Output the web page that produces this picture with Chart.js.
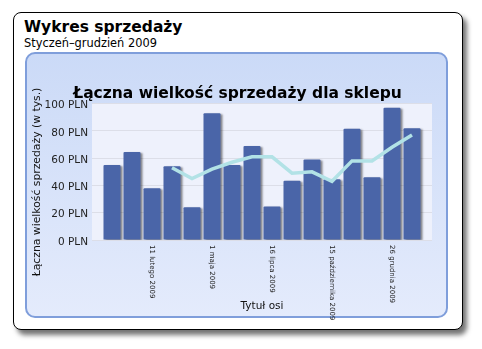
<!DOCTYPE html>
<html>
<head>
<meta charset="utf-8">
<script src="https://cdn.jsdelivr.net/npm/chart.js@4.4.0/dist/chart.umd.min.js"></script>
<style>
  body { margin: 0; background: #fff; font-family: "DejaVu Sans", Verdana, sans-serif; }
  #card {
    position: absolute; left: 13px; top: 12px; width: 448px; height: 316px;
    border: 1px solid #000; border-radius: 8px; background: #fff;
    box-shadow: 4px 5px 5px rgba(0,0,0,0.55);
  }
  #head1 { position: absolute; left: 24px; top: 18px; font-weight: bold; font-size: 15.5px; color: #000; }
  #head2 { position: absolute; left: 24px; top: 36px; font-size: 11.4px; color: #000; }
  #panel {
    position: absolute; left: 25px; top: 52px; width: 419px; height: 262px;
    border: 2px solid #7f9edb; border-radius: 10px;
    background: linear-gradient(to bottom, #cbdaf7, #e4ebfc);
  }
  #chart { position: absolute; left: 0; top: 0; }
</style>
</head>
<body>
<div id="card"></div>
<div id="head1">Wykres sprzedaży</div>
<div id="head2">Styczeń–grudzień 2009</div>
<div id="panel"></div>
<canvas id="chart" width="482" height="349"></canvas>
<script>
// data
const categories = ['', '', '11 lutego 2009', '', '', '1 maja 2009', '', '', '16 lipca 2009', '', '', '15 października 2009', '', '', '26 grudnia 2009', ''];
const salesValues = [55, 64.5, 38, 54, 24, 93, 55, 69, 24.5, 43.5, 59, 44.5, 81.5, 46, 97, 82];
const trendValues = [null, null, null, 53, 45, 52, 57, 61, 61, 49, 50, 43, 58, 58, 68, 77];
const yTicks = [0, 20, 40, 60, 80, 100];
const yTitle = 'Łączna wielkość sprzedaży (w tys.)';

const FONT = '"DejaVu Sans", Verdana, sans-serif';

// plot background
const plotBg = {
  id: 'plotBg',
  beforeDraw(chart) {
    const a = chart.chartArea;
    const ctx = chart.ctx;
    ctx.save();
    ctx.fillStyle = '#eef1fc';
    ctx.fillRect(a.left, a.top, a.right - a.left, a.bottom - a.top);
    ctx.restore();
  }
};

// shadow under the bars
const barShadow = {
  id: 'barShadow',
  beforeDatasetDraw(chart, args) {
    if (args.meta.type !== 'bar') return;
    const ctx = chart.ctx;
    ctx.save();
    ctx.shadowColor = 'rgba(0,0,0,0.45)';
    ctx.shadowOffsetX = 2;
    ctx.shadowOffsetY = 1;
    ctx.shadowBlur = 2;
  },
  afterDatasetDraw(chart, args) {
    if (args.meta.type !== 'bar') return;
    chart.ctx.restore();
  }
};

// x labels turned clockwise (read top to bottom) + y title
const axisText = {
  id: 'axisText',
  afterDraw(chart) {
    const ctx = chart.ctx;
    const x = chart.scales.x;
    const a = chart.chartArea;
    ctx.save();
    ctx.font = '7px ' + FONT;
    ctx.fillStyle = '#222';
    ctx.textAlign = 'left';
    ctx.textBaseline = 'middle';
    categories.forEach((lab, i) => {
      if (!lab) return;
      ctx.save();
      ctx.translate(x.getPixelForValue(i), a.bottom + 5);
      ctx.rotate(Math.PI / 2);
      ctx.fillText(lab, 0, 0);
      ctx.restore();
    });
    // y title
    ctx.font = '10.8px ' + FONT;
    ctx.fillStyle = '#111';
    ctx.textAlign = 'center';
    ctx.translate(37, 182);
    ctx.rotate(-Math.PI / 2);
    ctx.fillText(yTitle, 0, 0);
    ctx.restore();
  }
};

new Chart(document.getElementById('chart'), {
  data: {
    datasets: [{
      type: 'line',
      data: trendValues.map((v, i) => ({x: i, y: v})),
      borderColor: '#b2e2e6',
      borderWidth: 3.5,
      pointRadius: 0,
      tension: 0,
      order: 0
    }, {
      type: 'bar',
      data: salesValues.map((v, i) => ({x: i, y: v})),
      backgroundColor: '#4a65a8',
      borderRadius: 1,
      barPercentage: 0.85,
      categoryPercentage: 1,
      order: 1
    }]
  },
  options: {
    responsive: false,
    animation: false,
    layout: { padding: { left: 26, right: 33, top: 80, bottom: 32 } },
    plugins: {
      legend: { display: false },
      tooltip: { enabled: false },
      title: {
        display: true,
        text: 'Łączna wielkość sprzedaży dla sklepu',
        color: '#000',
        font: { family: FONT, size: 15.5, weight: 'bold' },
        padding: { top: 5, bottom: 0 }
      }
    },
    scales: {
      x: {
        type: 'linear',
        min: -1,
        max: 16,
        offset: false,
        bounds: 'data',
        grid: { display: false, offset: false },
        border: { display: false },
        ticks: { display: false },
        afterFit(s) { s.height = 77; },
        title: {
          display: true,
          text: 'Tytuł osi',
          color: '#111',
          font: { family: FONT, size: 10.5 },
          padding: { top: 0, bottom: 4 }
        }
      },
      y: {
        min: 0,
        max: 100,
        afterBuildTicks(s) { s.ticks = yTicks.map(v => ({value: v})); },
        grid: { color: '#dcdee8', drawTicks: false },
        border: { display: false },
        ticks: {
          padding: 4,
          labelOffset: 2,
          color: '#222',
          font: { family: FONT, size: 10.5 },
          callback: v => v + ' PLN'
        },
        afterFit(s) { s.width = 66; }
      },
      yR: {
        position: 'right',
        grid: { display: false },
        border: { display: false },
        ticks: { display: false },
        afterFit(s) { s.width = 17; }
      }
    }
  },
  plugins: [plotBg, barShadow, axisText]
});
</script>
</body>
</html>
